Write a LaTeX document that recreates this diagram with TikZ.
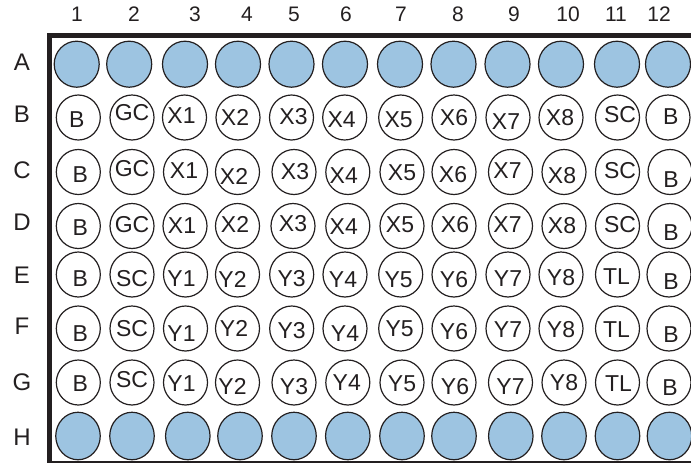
\documentclass[tikz,border=0pt]{standalone}
\usepackage{fontspec}
\setmainfont{Liberation Sans}
\usetikzlibrary{shapes.geometric}
\definecolor{ink}{HTML}{231F20}
\definecolor{wellblue}{RGB}{157,196,225}
\begin{document}
\begin{tikzpicture}[x=1pt,y=-1pt,
  well/.style={ellipse,draw=ink,line width=1.2pt,inner sep=0pt,minimum width=44pt,minimum height=45pt},
  bluewell/.style={well,fill=wellblue,minimum width=45pt,minimum height=46pt},
  wl/.style={inner sep=0pt,font=\fontsize{23}{23}\selectfont,text=ink},
  collab/.style={inner sep=0pt,font=\fontsize{21}{21}\selectfont,text=ink},
  rowlab/.style={inner sep=0pt,font=\fontsize{24}{24}\selectfont,text=ink}]
\useasboundingbox (0,0) rectangle (691,464);
% plate frame
\fill[ink] (47,33) rectangle (691,38);
\fill[ink] (47,33) rectangle (52,462.5);
\draw[ink,line width=1.6pt] (52,461.7) -- (691,461.7);
% column labels
\foreach \c/\x in {1/77,2/134,3/195,4/247,5/294,6/346,7/401,8/458,9/514,10/568,11/616,12/659}
  \node[collab] (col\c) at (\x,14) {\c};
% row labels
\foreach \r/\y in {A/62.5,B/114,C/170,D/222,E/275,F/326,G/382,H/437}
  \node[rowlab] (row\r) at (22,\y) {\r};
% row A
\foreach \c/\x in {1/76.7,2/129.2,3/185,4/238,5/291.5,6/345,7/400,8/453.5,9/507.5,10/561,11/617,12/668}
  \node[bluewell] (A\c) at (\x,64.2) {};
% row H
\foreach \c/\x in {1/78,2/132,3/187.8,4/240,5/294,6/347.8,7/402,8/454,9/510.8,10/564,11/617.5,12/669.5}
  \node[bluewell,minimum width=44.5pt,minimum height=47.5pt] (H\c) at (\x,436) {};
% row B
\foreach \c/\x/\t/\dx/\dy in {1/78.3/B/-1.5/2,2/132/GC/0/-4.5,3/184.5/X1/-3/-2,4/238/X2/-3/0,5/291.5/X3/2/-1,6/344.7/X4/-3/2,7/400.7/X5/-2/2,8/454/X6/0/0.5,9/508/X7/-2/4,10/561/X8/-1/0,11/617.5/SC/2.5/-3,12/668/B/2.7/-1}
  {\node[well] (B\c) at (\x,117.5) {};
   \node[wl] (B\c t) at ([shift={(\dx,\dy)}]B\c.center) {\t};}
% row C
\foreach \c/\x/\t/\dx/\dy in {1/78.3/B/2/3,2/132/GC/0/-3.5,3/185.5/X1/-1.5/-1,4/237.5/X2/-3.5/4,5/294/X3/1/0,6/347.8/X4/-4/4,7/402/X5/0/1,8/454/X6/-1/2.5,9/510.5/X7/-3/-1,10/564/X8/-2/4,11/617.5/SC/2.5/-1,12/670/B/1/7.5}
  {\node[well] (C\c) at (\x,172) {};
   \node[wl] (C\c t) at ([shift={(\dx,\dy)}]C\c.center) {\t};}
% row D
\foreach \c/\x/\t/\dx/\dy in {1/78.3/B/2/2,2/132/GC/0/-1.3,3/185/X1/-3/0,4/237.5/X2/-2.5/-1.3,5/293/X3/0/-2,6/347.8/X4/-4/1,7/402/X5/-2/-1,8/454/X6/1/-1,9/510.5/X7/-3/-1,10/564/X8/-2/0,11/617.5/SC/2.5/-1,12/670/B/1/7}
  {\node[well] (D\c) at (\x,226) {};
   \node[wl] (D\c t) at ([shift={(\dx,\dy)}]D\c.center) {\t};}
% row E
\foreach \c/\x/\t/\dx/\dy in {1/78.3/B/2/4,2/132/SC/0/4,3/185.5/Y1/-4/4,4/237.5/Y2/-5/5,5/291.7/Y3/0/4,6/345/Y4/-2/5,7/400.7/Y5/-2/5,8/454/Y6/0/5,9/508/Y7/0/4,10/561/Y8/0/3,11/617.5/TL/-1/2,12/669/B/2/7}
  {\node[well] (E\c) at (\x,274.5) {};
   \node[wl] (E\c t) at ([shift={(\dx,\dy)}]E\c.center) {\t};}
% row F
\foreach \c/\x/\t/\dx/\dy in {1/78.3/B/2/5,2/132/SC/0/0.5,3/185.5/Y1/-4/5,4/237.5/Y2/-3.5/0,5/291.7/Y3/0/2,6/345/Y4/0/5,7/400.7/Y5/-1/0,8/454/Y6/0/3,9/508/Y7/0/1.5,10/561/Y8/0/1.5,11/617.5/TL/-1/1.5,12/669/B/2/6.5}
  {\node[well] (F\c) at (\x,328.5) {};
   \node[wl] (F\c t) at ([shift={(\dx,\dy)}]F\c.center) {\t};}
% row G
\foreach \c/\x/\t/\dx/\dy in {1/78.3/B/2/1,2/132/SC/0/-2.5,3/185.5/Y1/-4/1.5,4/237.5/Y2/-5/4,5/294/Y3/0/4,6/347.8/Y4/-1/0,7/402/Y5/0/1,8/454/Y6/1/4,9/510.5/Y7/0/4,10/564/Y8/0/0,11/617.5/TL/1/1,12/669/B/1/5}
  {\node[well] (G\c) at (\x,382.5) {};
   \node[wl] (G\c t) at ([shift={(\dx,\dy)}]G\c.center) {\t};}
\end{tikzpicture}
\end{document}
